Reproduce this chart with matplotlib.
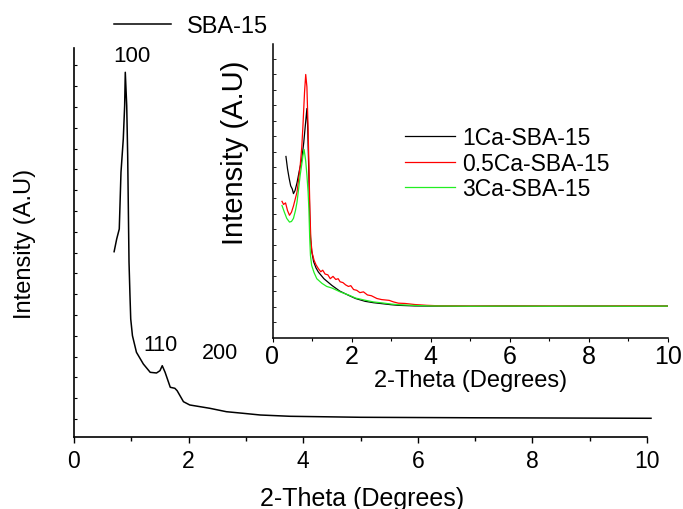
import matplotlib
matplotlib.use("Agg")
import matplotlib.pyplot as plt
from matplotlib.ticker import MultipleLocator

plt.rcParams['font.family'] = ['Liberation Sans', 'DejaVu Sans']

# main pattern: SBA-15
sba_x = [0.70, 0.745, 0.79, 0.82, 0.86, 0.884, 0.895, 0.92, 0.937, 0.955, 0.96,
         0.977, 0.99, 1.02, 1.09, 1.21, 1.33, 1.44, 1.50, 1.54, 1.59, 1.68, 1.76,
         1.80, 1.91, 2.02, 2.37, 2.66, 2.95, 3.25, 3.77, 5.0, 7.0, 10.07]
sba_y = [4022, 4327, 4568, 5931, 6731, 7532, 8335, 7532, 6330, 4327, 3774,
         2964, 2404, 2003, 1603, 1322, 1122, 1106, 1161, 1281, 1122, 762, 738,
         680, 416, 337, 257, 175, 137, 96, 65, 41, 29, 17]

# inset patterns
ca1_x = [0.34, 0.38, 0.42, 0.46, 0.50, 0.53, 0.57, 0.62, 0.68, 0.74, 0.79, 0.83,
         0.87, 0.89, 0.92, 0.94, 0.96, 0.99, 1.04, 1.10, 1.16, 1.30, 1.50, 1.70,
         1.92, 2.10, 2.34, 2.55, 2.76, 3.00, 3.18, 3.60, 4.0, 5.0, 6.0, 7.0, 8.0,
         9.0, 10.0]
ca1_y = [11.7, 10.9, 10.3, 9.8, 9.6, 9.3, 9.5, 10.0, 10.8, 11.5, 12.6, 13.7,
         14.8, 13.6, 10.5, 8.0, 6.5, 5.6, 4.9, 4.5, 4.23, 3.8, 3.37, 3.0,
         2.73, 2.52, 2.34, 2.25, 2.19, 2.12, 2.08, 2.04, 2.03, 2.02, 2.03, 2.02,
         2.03, 2.02, 2.03]

ca05_x = [0.24, 0.28, 0.33, 0.38, 0.43, 0.48, 0.53, 0.58, 0.62, 0.66, 0.70, 0.74,
          0.77, 0.81, 0.84, 0.87, 0.90, 0.93, 0.95, 0.97, 1.00, 1.05, 1.10, 1.16,
          1.22, 1.27, 1.33, 1.40, 1.46, 1.53, 1.60, 1.66, 1.71, 1.78, 1.85, 1.92,
          1.98, 2.05, 2.13, 2.21, 2.30, 2.40, 2.50, 2.64, 2.76, 2.95, 3.06, 3.18,
          3.35, 3.60, 3.90, 4.20, 5.0, 6.0, 7.0, 8.0, 9.0, 10.0]
ca05_y = [8.8, 8.6, 8.7, 8.2, 7.9, 8.1, 8.5, 9.0, 9.4, 10.2, 11.1, 12.3,
          13.7, 15.85, 17.0, 16.2, 13.5, 10.0, 7.8, 6.3, 5.5, 5.0, 4.7, 4.45,
          4.25, 4.35, 4.1, 4.05, 3.8, 3.95, 3.75, 3.8, 3.6, 3.55, 3.4, 3.3,
          3.35, 3.1, 3.05, 2.9, 2.95, 2.75, 2.7, 2.52, 2.45, 2.4, 2.3, 2.22,
          2.2, 2.13, 2.08, 2.05, 2.03, 2.04, 2.03, 2.03, 2.04, 2.03]

ca3_x = [0.24, 0.30, 0.36, 0.43, 0.48, 0.53, 0.58, 0.62, 0.66, 0.70, 0.74, 0.77,
         0.80, 0.84, 0.87, 0.90, 0.92, 0.94, 0.96, 0.99, 1.05, 1.12, 1.25, 1.37,
         1.50, 1.71, 1.92, 2.10, 2.34, 2.55, 2.76, 3.00, 3.18, 3.60, 4.0, 5.0,
         6.0, 7.0, 8.0, 9.0, 10.0]
ca3_y = [8.53, 8.1, 7.7, 7.46, 7.5, 7.7, 8.2, 8.75, 9.6, 10.5, 11.2, 11.76,
         12.15, 11.4, 10.5, 9.4, 8.3, 6.5, 5.3, 4.66, 4.2, 3.8, 3.5, 3.3,
         3.2, 2.95, 2.75, 2.55, 2.41, 2.3, 2.24, 2.16, 2.12, 2.07, 2.04, 2.02,
         2.03, 2.02, 2.03, 2.02, 2.03]

W, H = 683, 510
fig = plt.figure(figsize=(W / 100, H / 100), dpi=100)

# main axes
ax = fig.add_axes([74 / W, 1 - 438 / H, (647 - 74) / W, (438 - 49) / H])
ax.plot(sba_x, sba_y, color='black', lw=1.1, clip_on=False, label='SBA-15')
ax.set_xlim(0, 10)
ax.set_ylim(-433, 8919)
for s in ['top', 'right']:
    ax.spines[s].set_visible(False)
for s in ['left', 'bottom']:
    ax.spines[s].set_linewidth(1.2)
ax.xaxis.set_major_locator(MultipleLocator(2))
ax.xaxis.set_minor_locator(MultipleLocator(1))
ax.set_yticks([v * 500 for v in range(0, 18)])
ax.tick_params(axis='x', which='major', direction='out', length=4.5, width=1,
               labelsize=16.5, pad=4.5)
ax.tick_params(axis='x', which='minor', direction='out', length=3, width=1)
ax.tick_params(axis='y', which='major', direction='in', length=2.5, width=0.8,
               labelleft=False)
ax.set_xlabel('2-Theta (Degrees)', fontsize=18, va='center')
ax.xaxis.set_label_coords(0.5026, -0.157)
ax.set_ylabel('Intensity (A.U)', fontsize=17, va='center')
ax.yaxis.set_label_coords(-0.085, 0.5)

ax.text(1.012, 8750, '100', fontsize=16, ha='center', va='center')
ax.text(1.51, 1786, '110', fontsize=15.5, ha='center', va='center')
ax.text(2.54, 1603, '200', fontsize=15.5, ha='center', va='center')

ax.legend(loc='center left', bbox_to_anchor=(114 / W, 1 - 27 / H),
          bbox_transform=fig.transFigure, frameon=False, fontsize=17,
          handlelength=2.4, handletextpad=0.7, borderpad=0, borderaxespad=0)

# inset
ins = fig.add_axes([272.5 / W, 1 - 338.5 / H, (668 - 272.5) / W, (338.5 - 45) / H])
ins.patch.set_alpha(0)
ins.plot(ca1_x, ca1_y, color='black', lw=0.9, label='1Ca-SBA-15')
ins.plot(ca05_x, ca05_y, color='red', lw=0.9, label='0.5Ca-SBA-15')
ins.plot(ca3_x, ca3_y, color='#22ee22', lw=0.9, label='3Ca-SBA-15')
ins.set_xlim(0, 10)
ins.set_ylim(0, 18.97)
for s in ['top', 'right']:
    ins.spines[s].set_visible(False)
for s in ['left', 'bottom']:
    ins.spines[s].set_linewidth(1.1)
ins.xaxis.set_major_locator(MultipleLocator(2))
ins.xaxis.set_minor_locator(MultipleLocator(1))
ins.set_yticks(list(range(1, 19)))
ins.tick_params(axis='x', which='major', direction='out', length=3, width=0.8,
                labelsize=18, pad=1.5)
ins.tick_params(axis='x', which='minor', direction='out', length=2, width=0.8)
ins.tick_params(axis='y', which='major', direction='in', length=2, width=0.6,
                labelleft=False)
ins.set_xlabel('2-Theta (Degrees)', fontsize=17, va='center')
ins.xaxis.set_label_coords(0.5, -0.1465)
ins.set_ylabel('Intensity (A.U)', fontsize=21, va='center')
ins.yaxis.set_label_coords(-0.0948, 0.632)

ins.legend(loc='upper left', bbox_to_anchor=(405 / W, 1 - 127 / H),
           bbox_transform=fig.transFigure, frameon=False, fontsize=16.5,
           handlelength=2.2, handletextpad=0.3, labelspacing=0.12,
           borderpad=0, borderaxespad=0)

fig.savefig('out.png', dpi=100)
